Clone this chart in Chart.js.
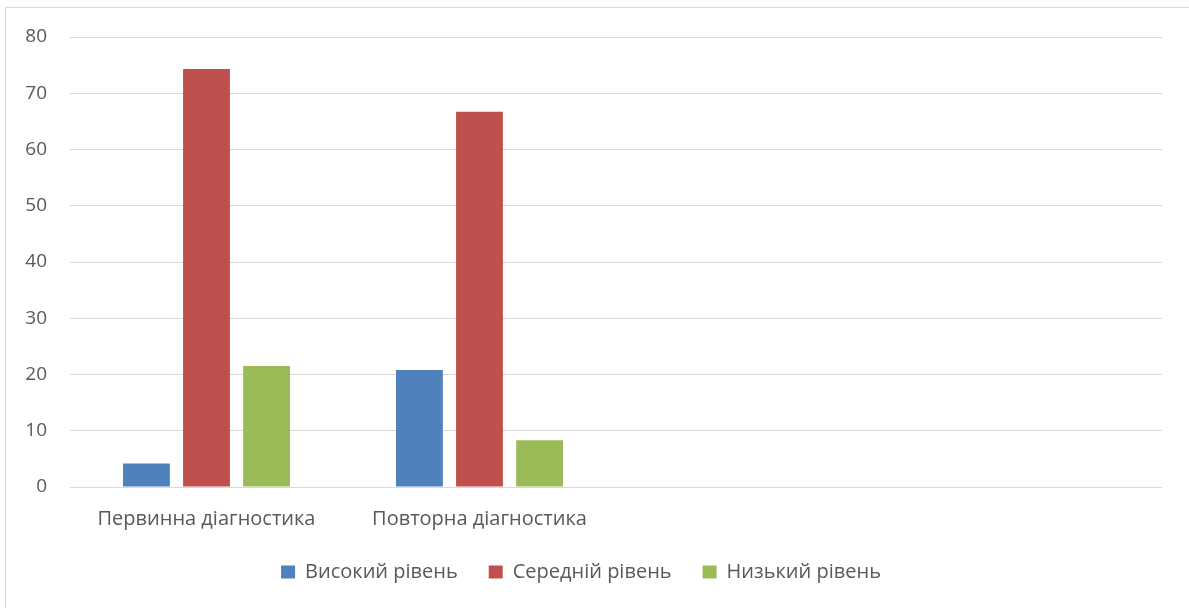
<!DOCTYPE html>
<html>
<head>
<meta charset="utf-8">
<script src="https://cdn.jsdelivr.net/npm/chart.js@4"></script>
<style>
  html, body { margin: 0; padding: 0; background: #fff; overflow: hidden; }
  #frame { position: absolute; left: 5px; top: 7px; width: 1200px; height: 620px; border: 1px solid #d9d9d9; }
  #wrap { position: absolute; left: 0; top: 0; width: 1189px; height: 608px; }
</style>
</head>
<body>
<div id="frame"></div>
<div id="wrap"><canvas id="chart"></canvas></div>
<script>
// categories (last two slots are empty in the original)
const categories = ['Первинна діагностика', 'Повторна діагностика', '', ''];
const highLevel = [4.2, 20.8, null, null];
const midLevel = [74.3, 66.7, null, null];
const lowLevel = [21.5, 8.3, null, null];
const yTicks = [0, 10, 20, 30, 40, 50, 60, 70, 80];

const textColor = '#595959';
const fontFamily = "'Open Sans', 'Liberation Sans', sans-serif";

const ctx = document.getElementById('chart').getContext('2d');
new Chart(ctx, {
  type: 'bar',
  data: {
    labels: categories,
    datasets: [
      { label: 'Високий рівень', data: highLevel, backgroundColor: '#4f81bd' },
      { label: 'Середній рівень', data: midLevel, backgroundColor: '#c0504d' },
      { label: 'Низький рівень', data: lowLevel, backgroundColor: '#9bbb59' }
    ]
  },
  options: {
    responsive: true,
    maintainAspectRatio: false,
    animation: false,
    layout: { padding: { top: 37, right: 27, bottom: 16, left: 0 } },
    datasets: { bar: { categoryPercentage: 0.66, barPercentage: 0.78 } },
    plugins: {
      legend: {
        position: 'bottom',
        labels: {
          color: textColor,
          font: { family: fontFamily, size: 20 },
          boxWidth: 14,
          boxHeight: 13,
          padding: 31
        }
      },
      tooltip: { enabled: false }
    },
    scales: {
      x: {
        grid: { display: false },
        border: { display: false },
        afterFit: function (scale) { scale.height = 44; },
        ticks: {
          color: textColor,
          font: { family: fontFamily, size: 20 },
          padding: 12,
          maxRotation: 0,
          autoSkip: false
        }
      },
      y: {
        min: yTicks[0],
        max: yTicks[yTicks.length - 1],
        afterFit: function (scale) { scale.width = 70; },
        afterBuildTicks: function (scale) { scale.ticks = yTicks.map(v => ({ value: v })); },
        grid: { color: '#d9d9d9', lineWidth: 1, drawTicks: false },
        border: { display: false },
        ticks: {
          color: textColor,
          font: { family: fontFamily, size: 19 },
          padding: 23
        }
      }
    }
  }
});
</script>
</body>
</html>
